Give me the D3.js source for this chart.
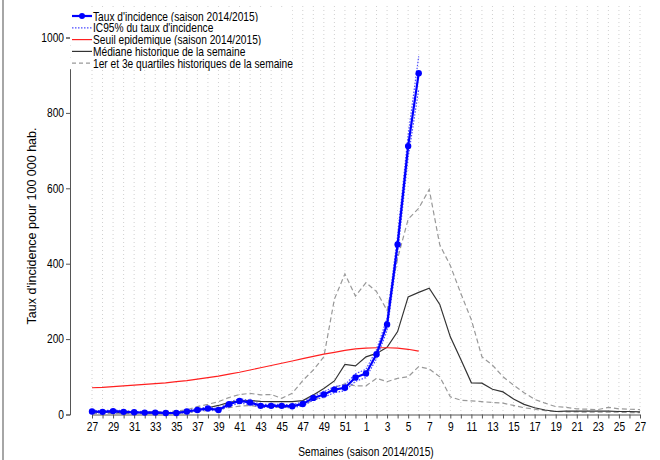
<!DOCTYPE html>
<html lang="fr">
<head>
<meta charset="UTF-8">
<title>Taux d'incidence</title>
<script src="https://cdn.jsdelivr.net/npm/d3@7"></script>
<style>
  body { margin: 0; background: #fff; }
  svg text { font-family: "Liberation Sans", Arial, sans-serif; }
</style>
</head>
<body>
<div id="chart"></div>
<script>
// semaines 27..52 puis 1..27
const weeks = d3.range(27, 53).concat(d3.range(1, 28))
const yTicks = [0, 200, 400, 600, 800, 1000]

// saison 2014/2015 (semaine 27 -> semaine 6)
const incidence = [8,7,9,7,6,5,5,4,4,8,12,16,12,27,36,32,23,23,23,22,28,44,53,66,71,98,109,160,239,451,712,905]
const ciLow  = [5,4,6,4,4,3,3,2,2,5,9,12,9,22,30,27,19,19,19,18,23,38,46,58,63,88,98,148,223,428,682,862]
const ciHigh = [11,10,12,10,8,7,7,6,6,11,15,20,15,32,42,37,27,27,27,26,33,50,60,74,79,108,120,172,255,474,742,950]
const seuil  = [71,72,74,76,78,80,82,84,87,90,94,98,102,107,112,118,124,130,136,142,148,154,160,165,170,174,176,177,177,176,173,168]

// historique
const mediane = [6,6,6,5,5,5,5,5,6,8,12,18,24,32,36,37,35,34,34,34,37,52,69,89,133,129,
  153,162,178,220,312,324,335,292,206,146,84,83,67,60,41,27,18,12,8,9,9,9,9,9,8,8,7]
const q3 = [10,10,10,9,9,8,8,8,9,12,21,27,34,45,53,56,52,53,43,56,90,118,153,306,373,314,
  350,326,276,414,518,547,597,450,395,321,251,153,131,100,78,58,40,30,21,19,15,14,13,19,15,14,13]
const q1 = [3,3,3,3,2,2,2,2,3,5,8,11,14,18,22,24,20,19,19,20,25,38,50,72,81,76,
  76,96,87,96,100,127,121,100,47,38,36,34,32,30,24,18,14,10,8,7,7,6,6,6,6,5,5]

const W = 660, H = 460
const narrow = 'scale(0.85,1)'   // police étroite façon R
const svg = d3.select('#chart').append('svg').attr('width', W).attr('height', H)

const x = d3.scaleLinear().domain([0, weeks.length - 1]).range([92, 640])
const y = d3.scaleLinear().domain([0, 1000]).range([414.5, 37.5])

// bordure gauche
svg.append('line').attr('x1', 3).attr('x2', 3).attr('y1', 0).attr('y2', H)
  .attr('stroke', '#888').attr('stroke-width', 1.5)

// grille verticale
svg.append('g').selectAll('line').data(weeks).join('line')
  .attr('x1', (d, i) => x(i)).attr('x2', (d, i) => x(i))
  .attr('y1', 6).attr('y2', y(0))
  .attr('stroke', '#d0d0d0').attr('stroke-width', 1).attr('stroke-dasharray', '1,3')

// axes
const yAxis = d3.axisLeft(y).tickValues(yTicks).tickSize(4).tickPadding(2).tickFormat(d3.format('d'))
const gy = svg.append('g').attr('transform', 'translate(70,0)').call(yAxis)
const xAxis = d3.axisBottom(x).tickValues(d3.range(weeks.length)).tickSize(4).tickPadding(4)
  .tickFormat(i => i % 2 === 0 ? weeks[i] : '')
const gx = svg.append('g').attr('transform', `translate(0,${y(0)})`).call(xAxis)
for (const g of [gx, gy]) {
  g.select('.domain').attr('stroke', '#555')
  g.selectAll('.tick line').attr('stroke', '#555')
  g.selectAll('text').attr('fill', '#000').style('font-size', '12px').attr('transform', narrow)
}
gy.selectAll('text').attr('x', -6 / 0.85)
gx.select('.domain').attr('d', `M${x(0)},0.5H${x(weeks.length - 1)}`)

svg.append('text').attr('transform', `translate(36,${(y(0) + y(1000)) / 2}) rotate(-90)`)
  .attr('text-anchor', 'middle').style('font-size', '12.5px')
  .text("Taux d'incidence pour 100 000 hab.")
svg.append('text').attr('transform', `translate(${(x(0) + x(52)) / 2},456) ${narrow}`)
  .attr('text-anchor', 'middle').style('font-size', '12px')
  .text('Semaines (saison 2014/2015)')

const line = d3.line().x((d, i) => x(i)).y(d => y(d))

const series = [
  { data: q1, stroke: '#999', width: 1.2, dash: '5,3' },
  { data: q3, stroke: '#999', width: 1.2, dash: '5,3' },
  { data: mediane, stroke: '#333', width: 1.2, dash: null },
  { data: seuil, stroke: '#ff2020', width: 1.2, dash: null },
  { data: ciLow, stroke: '#4a4aff', width: 1.2, dash: '1.5,1.5' },
  { data: ciHigh, stroke: '#4a4aff', width: 1.2, dash: '1.5,1.5' },
  { data: incidence, stroke: '#0000ff', width: 2.2, dash: null }
]
series.forEach(s => {
  svg.append('path').datum(s.data).attr('d', line)
    .attr('fill', 'none').attr('stroke', s.stroke)
    .attr('stroke-width', s.width).attr('stroke-dasharray', s.dash)
})
svg.append('g').selectAll('circle').data(incidence).join('circle')
  .attr('cx', (d, i) => x(i)).attr('cy', d => y(d)).attr('r', 3.2).attr('fill', '#0000ff')

// légende
const legend = [
  { label: "Taux d'incidence (saison 2014/2015)", stroke: '#0000ff', width: 2.2, dash: null, dot: true },
  { label: "IC95% du taux d'incidence", stroke: '#4a4aff', width: 1.2, dash: '1.5,1.5' },
  { label: 'Seuil epidemique (saison 2014/2015)', stroke: '#ff2020', width: 1.2, dash: null },
  { label: 'Médiane historique de la semaine', stroke: '#333', width: 1.2, dash: null },
  { label: '1er et 3e quartiles historiques de la semaine', stroke: '#999', width: 1.2, dash: '4,3' }
]
const lg = svg.append('g').attr('transform', 'translate(72,16)')
legend.forEach((d, i) => {
  const row = lg.append('g').attr('transform', `translate(0,${i * 11.8})`)
  row.append('rect').attr('x', -2).attr('y', -6).attr('width', 222).attr('height', 12).attr('fill', '#fff')
  row.append('line').attr('x1', 0).attr('x2', 20).attr('y1', 0).attr('y2', 0)
    .attr('stroke', d.stroke).attr('stroke-width', d.width).attr('stroke-dasharray', d.dash)
  if (d.dot) row.append('circle').attr('cx', 10).attr('cy', 0).attr('r', 3).attr('fill', d.stroke)
  row.append('text').attr('transform', `translate(21,4.5) ${narrow}`).style('font-size', '12px').text(d.label)
})
</script>
</body>
</html>
